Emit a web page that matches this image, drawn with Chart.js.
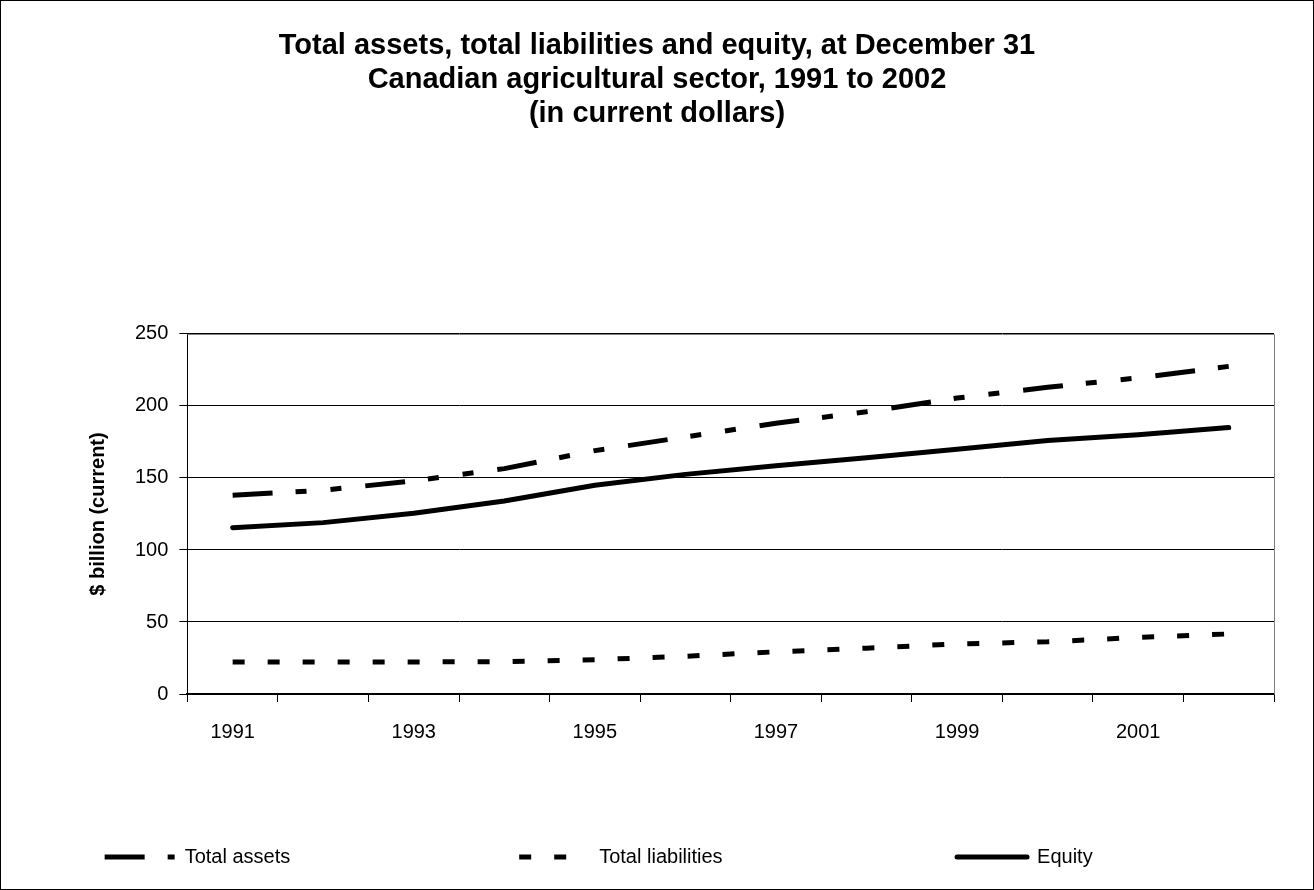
<!DOCTYPE html>
<html>
<head>
<meta charset="utf-8">
<title>Total assets, total liabilities and equity</title>
<script src="https://cdn.jsdelivr.net/npm/chart.js@4.4.1/dist/chart.umd.min.js"></script>
<style>
  body { margin: 0; background: #fff; }
  #wrap {
    width: 1314px;
    height: 890px;
    box-sizing: border-box;
    border: 1px solid #000;
    position: relative;
  }
</style>
</head>
<body>
<div id="wrap"><canvas id="balanceChart"></canvas></div>
<script>
// Values, $ billion (current)
const years = ["1991", "1992", "1993", "1994", "1995", "1996", "1997", "1998", "1999", "2000", "2001", "2002"]
const totalAssets = [138, 141.5, 148, 156.5, 169, 178.5, 188, 196, 205.5, 213, 219.5, 227.5]
const totalLiabilities = [22.3, 22.3, 22.3, 22.4, 23.8, 26.2, 29.3, 31.8, 34.8, 36.2, 39.3, 41.7]
const equity = [115.5, 119, 125.5, 134, 145, 152.5, 158.5, 164, 170, 176, 180, 185]
const yTicks = [0, 50, 100, 150, 200, 250]

const FONT = "Arial, 'Liberation Sans', sans-serif"

// trailing blanks so the legend entries spread out like the original
const legendTrail = [34, 35, 21]

// grey frame on the top and right side of the plot area
const plotFrame = {
  id: "plotFrame",
  beforeDatasetsDraw(chart) {
    const { ctx, chartArea: a } = chart
    ctx.save()
    ctx.strokeStyle = "#808080"
    ctx.lineWidth = 1
    ctx.beginPath()
    ctx.moveTo(Math.round(a.left) + 0.5, Math.round(a.top) + 0.5)
    ctx.lineTo(Math.round(a.right) + 0.5, Math.round(a.top) + 0.5)
    ctx.lineTo(Math.round(a.right) + 0.5, Math.round(a.bottom) + 0.5)
    ctx.stroke()
    ctx.restore()
  }
}

const ctx = document.getElementById("balanceChart")
new Chart(ctx, {
  type: "line",
  data: {
    labels: years,
    datasets: [
      {
        label: "Total assets",
        data: totalAssets,
        borderColor: "#000",
        backgroundColor: "#000",
        borderWidth: 5,
        borderDash: [40, 23, 11, 24, 11, 24],
        borderCapStyle: "butt",
        pointRadius: 0,
        tension: 0,
      },
      {
        label: "Total liabilities",
        data: totalLiabilities,
        borderColor: "#000",
        backgroundColor: "#000",
        borderWidth: 5,
        borderDash: [12, 23],
        borderCapStyle: "butt",
        pointRadius: 0,
        tension: 0,
      },
      {
        label: "Equity",
        data: equity,
        borderColor: "#000",
        backgroundColor: "#000",
        borderWidth: 5,
        borderCapStyle: "round",
        borderJoinStyle: "round",
        pointRadius: 0,
        tension: 0,
      },
    ],
  },
  options: {
    responsive: true,
    maintainAspectRatio: false,
    animation: false,
    layout: {
      padding: { left: 39, right: 39, top: 0, bottom: 12 },
    },
    plugins: {
      title: {
        display: true,
        text: [
          "Total assets, total liabilities and equity, at December 31",
          "Canadian agricultural sector, 1991 to 2002",
          "(in current dollars)",
        ],
        color: "#000",
        font: { family: FONT, size: 29, weight: "bold", lineHeight: 1.172 },
        padding: { top: 28, bottom: 203 },
      },
      legend: {
        position: "bottom",
        labels: {
          color: "#000",
          font: { family: FONT, size: 20 },
          usePointStyle: true,
          pointStyle: "line",
          pointStyleWidth: 70,
          padding: 40,
          generateLabels(chart) {
            const items = Chart.defaults.plugins.legend.labels.generateLabels(chart)
            items.forEach((item, i) => {
              const ds = chart.data.datasets[item.datasetIndex]
              item.text = item.text + " ".repeat(legendTrail[i])
              item.pointStyle = "line"
              item.lineDash = ds.borderDash || []
              item.lineDashOffset = 0
              item.lineCap = ds.borderCapStyle
              item.lineWidth = ds.borderWidth
              item.strokeStyle = ds.borderColor
            })
            return items
          },
        },
      },
      tooltip: { enabled: false },
    },
    scales: {
      x: {
        offset: true,
        afterFit: (scale) => {
          // leave the empty band between the year labels and the legend
          scale.height = 113
        },
        grid: {
          offset: true,
          drawOnChartArea: false,
          drawTicks: true,
          tickLength: 8,
          color: "#000",
        },
        border: { color: "#000", width: 2 },
        ticks: {
          autoSkip: false,
          maxRotation: 0,
          padding: 18,
          color: "#000",
          font: { family: FONT, size: 20 },
          callback: (value, index) => (index % 2 === 0 ? years[index] : ""),
        },
      },
      y: {
        min: 0,
        max: 250,
        afterBuildTicks: (scale) => {
          scale.ticks = yTicks.map((v) => ({ value: v }))
        },
        grid: {
          color: "#000",
          lineWidth: 1,
          tickLength: 8,
        },
        border: { color: "#000", width: 1 },
        ticks: {
          padding: 11,
          color: "#000",
          font: { family: FONT, size: 20 },
        },
        title: {
          display: true,
          text: "$ billion (current)",
          color: "#000",
          font: { family: FONT, size: 20, weight: "bold" },
          padding: { top: 46, bottom: 14 },
        },
      },
    },
  },
  plugins: [plotFrame],
})
</script>
</body>
</html>
